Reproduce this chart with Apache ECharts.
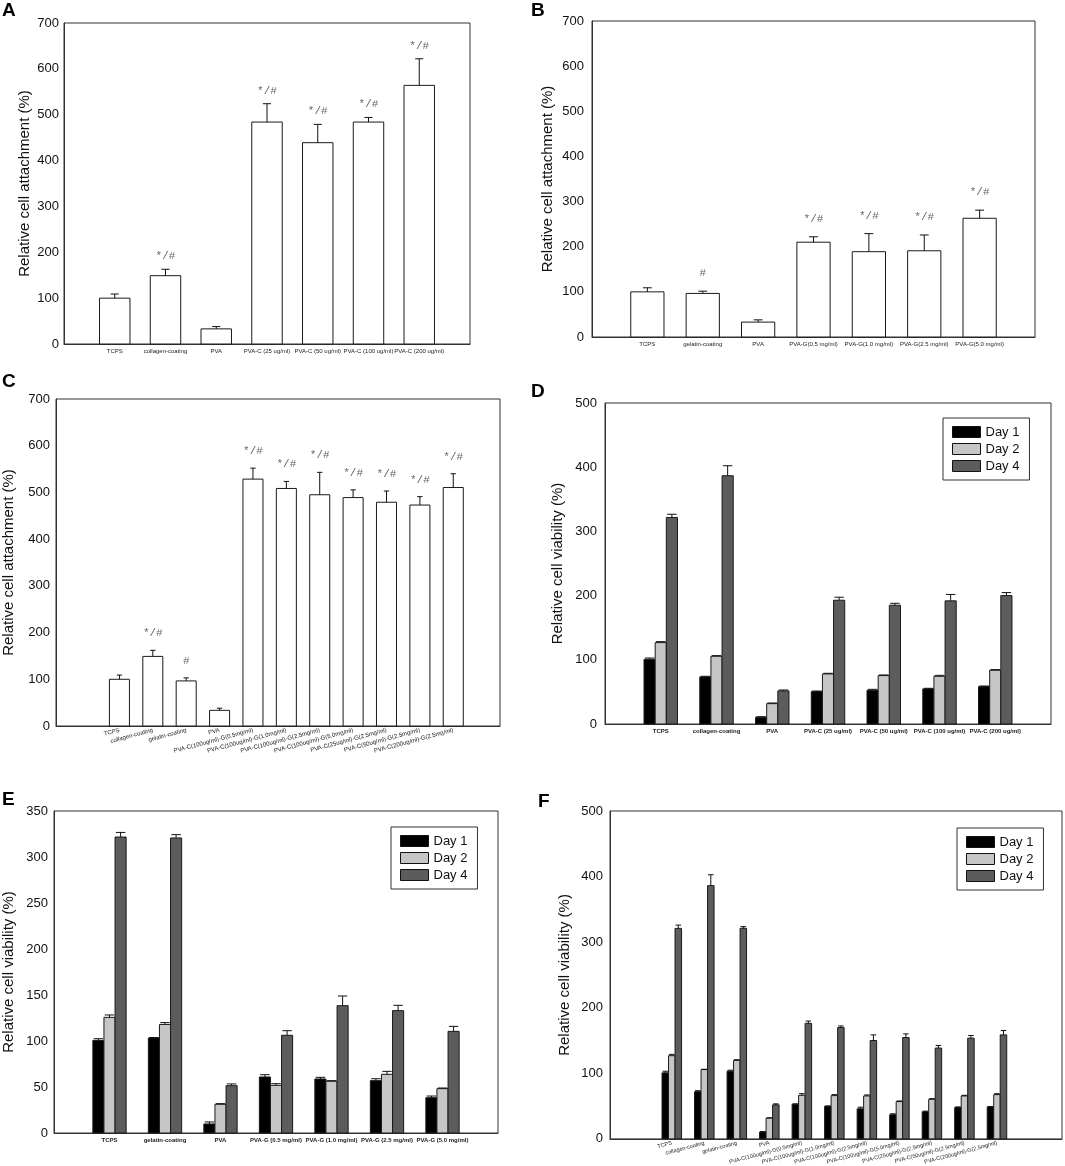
<!DOCTYPE html>
<html>
<head>
<meta charset="utf-8">
<script src="https://cdn.jsdelivr.net/npm/echarts@6/dist/echarts.min.js"></script>
<style>
  html, body { margin: 0; padding: 0; background: #fff; }
  #main { width: 1065px; height: 1166px; }
</style>
</head>
<body>
<div id="main"></div>
<script type="text/javascript">
// A: cell attachment, collagen
var catA = ['TCPS', 'collagen-coating', 'PVA', 'PVA-C (25 ug/ml)', 'PVA-C (50 ug/ml)', 'PVA-C (100 ug/ml)', 'PVA-C (200 ug/ml)'];
var meanA = [100, 149, 33, 484, 439, 484, 564];
var errA = [9, 14, 5, 40, 40, 10, 58];
var markA = ['', '*/#', '', '*/#', '*/#', '*/#', '*/#'];

// B: cell attachment, gelatin
var catB = ['TCPS', 'gelatin-coating', 'PVA', 'PVA-G(0.5 mg/ml)', 'PVA-G(1.0 mg/ml)', 'PVA-G(2.5 mg/ml)', 'PVA-G(5.0 mg/ml)'];
var meanB = [100, 96.5, 33, 210, 189, 191, 263];
var errB = [9, 5, 5, 12, 40, 35, 18];
var markB = ['', '#', '', '*/#', '*/#', '*/#', '*/#'];

// C: cell attachment, collagen + gelatin
var catC = ['TCPS', 'collagen-coating', 'gelatin-coating', 'PVA',
  'PVA-C(100ug/ml)-G(0.5mg/ml)', 'PVA-C(100ug/ml)-G(1.0mg/ml)', 'PVA-C(100ug/ml)-G(2.5mg/ml)',
  'PVA-C(100ug/ml)-G(5.0mg/ml)', 'PVA-C(25ug/ml)-G(2.5mg/ml)', 'PVA-C(50ug/ml)-G(2.5mg/ml)',
  'PVA-C(200ug/ml)-G(2.5mg/ml)'];
var meanC = [100, 149, 96.5, 33.5, 528.5, 508.5, 495, 489, 479, 473, 510.5];
var errC = [9, 13, 6.5, 4.5, 23.5, 15, 48, 16.5, 24, 18, 29.5];
var markC = ['', '*/#', '#', '', '*/#', '*/#', '*/#', '*/#', '*/#', '*/#', '*/#'];

// D: viability, collagen
var catD = ['TCPS', 'collagen-coating', 'PVA', 'PVA-C (25 ug/ml)', 'PVA-C (50 ug/ml)', 'PVA-C (100 ug/ml)', 'PVA-C (200 ug/ml)'];
var day1D = [100.8, 73.3, 10.4, 50.4, 52.5, 54.6, 58.2];
var day1DErr = [2, 1, 1, 1, 1.5, 1, 1];
var day2D = [126.8, 105.5, 31.7, 78, 75.4, 74.3, 83.7];
var day2DErr = [1.5, 1, 1, 1, 1, 1.5, 1];
var day4D = [321.7, 386.7, 51.5, 192.8, 185, 191.8, 200];
var day4DErr = [5, 15.6, 1.5, 4.7, 3, 10, 4.7];

// E: viability, gelatin
var catE = ['TCPS', 'gelatin-coating', 'PVA', 'PVA-G (0.5 mg/ml)', 'PVA-G (1.0 mg/ml)', 'PVA-G (2.5 mg/ml)', 'PVA-G (5.0 mg/ml)'];
var day1E = [100.7, 103.3, 9.8, 60.9, 58.7, 56.9, 38.4];
var day1EErr = [1.8, 0.5, 2.2, 2.5, 1.8, 2.1, 1.8];
var day2E = [125.7, 118, 31.2, 51.8, 56.2, 63.8, 48.2];
var day2EErr = [2.6, 2, 0.7, 1.8, 0.7, 3.2, 0.7];
var day4E = [321.7, 320.7, 51.4, 106.2, 138.4, 133, 110.5];
var day4EErr = [5, 3.6, 1.9, 5, 10.5, 5.8, 5.4];

// F: viability, collagen + gelatin
var catF = catC;
var day1F = [100.7, 72, 103.2, 10.6, 52.9, 49.8, 45.8, 36.8, 41.3, 47.8, 48.8];
var day1FErr = [2.5, 1.5, 1.5, 0.5, 0.5, 0.5, 2.5, 1.5, 1, 1, 0.5];
var day2F = [126.9, 105.7, 119.8, 31.7, 66.5, 66, 65.5, 56.9, 60.4, 65.5, 67.5];
var day2FErr = [2, 0.5, 1, 0.5, 2.5, 1.5, 1.5, 1, 1, 1, 1.5];
var day4F = [321, 386.2, 321.2, 51.9, 176.2, 169.7, 150, 154.6, 138.5, 153.6, 158.6];
var day4FErr = [5, 16.6, 2.5, 1.5, 3.5, 2.5, 8.6, 5.5, 4, 4, 6.6];

var dayNames = ['Day 1', 'Day 2', 'Day 4'];
var dayColors = ['#000000', '#c6c6c6', '#5c5c5c'];
var FONT = '"Liberation Sans", Arial, sans-serif';

//把数组变成 [x, 均值, 误差]
function toData(mean, err) {
	var out = [];
	for (var i = 0; i < mean.length; i++) {
		out.push([i + 1, mean[i], err[i]]);
	}
	return out;
}

//柱子 + 误差线 + 标记
function makeRender(shift, frac, capFrac, fill, marks, markGap) {
	return function (params, api) {
		var x = api.value(0), v = api.value(1), e = api.value(2);
		var slot = api.size([1, 0])[0];
		var bw = slot * frac;
		var p0 = api.coord([x, 0]);
		var p1 = api.coord([x, v]);
		var p2 = api.coord([x, v + e]);
		var cx = p0[0] + shift * bw;
		var cap = slot * capFrac / 2;
		var kids = [
			{type: 'rect', shape: {x: cx - bw / 2, y: p1[1], width: bw, height: p0[1] - p1[1]},
				style: {fill: fill, stroke: '#1a1a1a', lineWidth: 1}},
			{type: 'line', shape: {x1: cx, y1: p1[1], x2: cx, y2: p2[1]}, style: {stroke: '#111', lineWidth: 1}},
			{type: 'line', shape: {x1: cx - cap, y1: p2[1], x2: cx + cap, y2: p2[1]}, style: {stroke: '#111', lineWidth: 1}}
		];
		if (marks && marks[params.dataIndex]) {
			kids.push({type: 'text', style: {text: marks[params.dataIndex], x: cx, y: p2[1] - markGap,
				align: 'center', verticalAlign: 'middle', fill: '#666', font: '11px "Liberation Mono", monospace'}});
		}
		return {type: 'group', children: kids};
	};
}

var panels = [
	{grid: {left: 64, top: 23, width: 406, height: 321}, cats: catA, min: 0, max: 8, ymax: 700, step: 100,
		name: 'Relative cell attachment (%)', gap: 32, lblMargin: 5, rotate: 0, bold: false, xfont: 6},
	{grid: {left: 592, top: 21, width: 443, height: 316}, cats: catB, min: 0, max: 8, ymax: 700, step: 100,
		name: 'Relative cell attachment (%)', gap: 37, lblMargin: 8, rotate: 0, bold: false, xfont: 6},
	{grid: {left: 54, top: 399, width: 446, height: 327}, cats: catC, min: -0.9, max: 12.4, ymax: 700, step: 100,
		name: 'Relative cell attachment (%)', gap: 40, lblMargin: 6, rotate: 15, bold: false, xfont: 6},
	{grid: {left: 605, top: 403, width: 446, height: 321}, cats: catD, min: 0, max: 8, ymax: 500, step: 100,
		name: 'Relative cell viability (%)', gap: 40, lblMargin: 8, rotate: 0, bold: true, xfont: 6},
	{grid: {left: 51, top: 811, width: 447, height: 322}, cats: catE, min: 0, max: 8, ymax: 350, step: 50,
		name: 'Relative cell viability (%)', gap: 38, lblMargin: 6, rotate: 0, bold: true, xfont: 6},
	{grid: {left: 610, top: 811, width: 452, height: 331}, cats: catF, min: -0.9, max: 13, ymax: 500, step: 100,
		name: 'Relative cell viability (%)', gap: 38, lblMargin: 7, rotate: 15, bold: false, xfont: 5.5}
];

var grids = [], xAxes = [], yAxes = [], series = [];
panels.forEach(function (p, i) {
	grids.push({left: p.grid.left, top: p.grid.top, width: p.grid.width, height: p.grid.height,
		show: true, borderColor: '#333', borderWidth: 1, backgroundColor: 'transparent'});
	var ticks = [];
	for (var k = 1; k <= p.cats.length; k++) ticks.push(k);
	(function (cats) {
		xAxes.push({
			gridIndex: i, type: 'value', min: p.min, max: p.max,
			axisLine: {show: true, onZero: false, lineStyle: {color: '#333'}},
			axisTick: {show: false}, splitLine: {show: false},
			axisLabel: {customValues: ticks, formatter: function (v) { return cats[Math.round(v) - 1] || ''; },
				hideOverlap: false, showMinLabel: true, showMaxLabel: true,
				fontSize: p.xfont, fontWeight: p.bold ? 'bold' : 'normal', color: '#222', margin: 4, rotate: p.rotate}
		});
	})(p.cats);
	yAxes.push({
		gridIndex: i, type: 'value', min: 0, max: p.ymax, interval: p.step,
		axisLine: {show: true, onZero: false, lineStyle: {color: '#333'}},
		axisTick: {show: false}, splitLine: {show: false},
		axisLabel: {fontSize: 13, color: '#111', margin: p.lblMargin},
		name: p.name, nameLocation: 'middle', nameGap: p.gap,
		nameTextStyle: {fontSize: 15, color: '#111'}
	});
});

// A-C 单柱
var single = [[meanA, errA, markA, 13], [meanB, errB, markB, 18], [meanC, errC, markC, 17]];
single.forEach(function (s, i) {
	series.push({
		type: 'custom', xAxisIndex: i, yAxisIndex: i, silent: true,
		renderItem: makeRender(0, 0.6, 0.16, '#ffffff', s[2], s[3]),
		encode: {x: 0, y: 1}, data: toData(s[0], s[1])
	});
});

// D-F 分组柱
var grouped = [
	[[day1D, day1DErr], [day2D, day2DErr], [day4D, day4DErr]],
	[[day1E, day1EErr], [day2E, day2EErr], [day4E, day4EErr]],
	[[day1F, day1FErr], [day2F, day2FErr], [day4F, day4FErr]]
];
grouped.forEach(function (g, j) {
	var idx = j + 3;
	g.forEach(function (d, n) {
		series.push({
			type: 'custom', name: dayNames[n], xAxisIndex: idx, yAxisIndex: idx, silent: true,
			itemStyle: {color: dayColors[n], borderColor: '#111', borderWidth: 1},
			renderItem: makeRender(n - 1, 0.2, 0.17, dayColors[n], null, 0),
			encode: {x: 0, y: 1}, data: toData(d[0], d[1])
		});
	});
});

function legendAt(left, top) {
	return {
		left: left, top: top, orient: 'vertical', data: dayNames, icon: 'rect',
		itemWidth: 28, itemHeight: 11, itemGap: 3, padding: [7, 10, 7, 9],
		borderColor: '#333', borderWidth: 1, backgroundColor: '#fff',
		itemStyle: {borderColor: '#111', borderWidth: 1},
		textStyle: {fontSize: 13, color: '#111', fontFamily: FONT, lineHeight: 14},
		selectedMode: false
	};
}

function letter(t, x, y) {
	return {type: 'text', left: x, top: y, style: {text: t, font: 'bold 19px ' + FONT, fill: '#000'}};
}

var myChart = echarts.init(document.getElementById('main'), null, {renderer: 'canvas'});
myChart.setOption({
	backgroundColor: '#ffffff',
	animation: false,
	textStyle: {fontFamily: FONT},
	grid: grids,
	xAxis: xAxes,
	yAxis: yAxes,
	legend: [legendAt(943, 418), legendAt(391, 827), legendAt(957, 828)],
	graphic: [letter('A', 2, 1), letter('B', 531, 1), letter('C', 2, 372), letter('D', 531, 382),
		letter('E', 2, 790), letter('F', 538, 792)],
	series: series
});
</script>
</body>
</html>
